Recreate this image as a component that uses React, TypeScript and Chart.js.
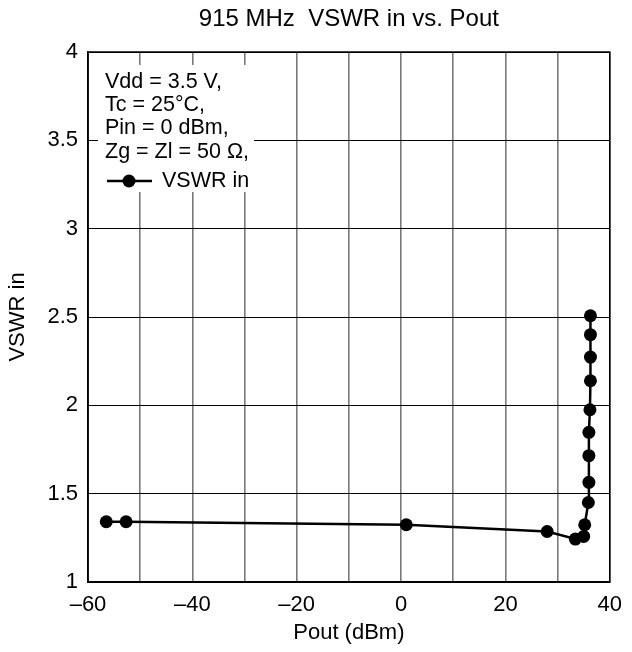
import React, { useEffect, useRef } from "react";
import { Chart, registerables } from "chart.js";

Chart.register(...registerables);

// Measured input VSWR against output power at 915 MHz
const poutDbm: number[] = [-56.5, -52.7, 1.0, 28.0, 33.4, 35.0, 35.2, 35.9, 36.0, 36.0, 36.0, 36.2, 36.3, 36.3, 36.3, 36.3];
const vswrIn: number[] = [1.341, 1.341, 1.324, 1.286, 1.243, 1.258, 1.324, 1.45, 1.564, 1.715, 1.847, 1.975, 2.139, 2.273, 2.4, 2.507];

const xTickValues: number[] = [-60, -40, -20, 0, 20, 40];
const yTickLabels: string[] = ["1", "1.5", "2", "2.5", "3", "3.5", "4"];

const conditionLines: string[] = ["Vdd = 3.5 V,", "Tc = 25\u00b0C,", "Pin = 0 dBm,", "Zg = Zl = 50 \u03a9,"];
const seriesName = "VSWR in";
const chartTitle = "915 MHz  VSWR in vs. Pout";

const FONT = "'Liberation Sans', Arial, Helvetica, sans-serif";

const framePlugin = {
  id: "frameAndNotes",
  beforeDatasetsDraw(chart: any) {
    const { ctx, chartArea } = chart;
    const { left, top, right, bottom } = chartArea;
    ctx.save();
    // black plot frame
    ctx.strokeStyle = "#000";
    ctx.lineWidth = 1.5;
    ctx.strokeRect(left, top, right - left, bottom - top);

    // condition note box (covers the grid)
    ctx.fillStyle = "#fff";
    ctx.fillRect(left + 10, top + 13, 156, 127);

    ctx.fillStyle = "#000";
    ctx.font = `21.5px ${FONT}`;
    ctx.textAlign = "left";
    ctx.textBaseline = "middle";
    const rows = [82, 105, 128, 152];
    conditionLines.forEach((t, i) => ctx.fillText(t, left + 17, rows[i]));

    // legend sample
    const ly = 181;
    ctx.strokeStyle = "#000";
    ctx.lineWidth = 2.5;
    ctx.beginPath();
    ctx.moveTo(left + 19, ly);
    ctx.lineTo(left + 64, ly);
    ctx.stroke();
    ctx.beginPath();
    ctx.arc(left + 41, ly, 6.5, 0, Math.PI * 2);
    ctx.fill();
    ctx.fillText(seriesName, left + 74, ly);

    // chart title
    ctx.font = `24px ${FONT}`;
    ctx.textAlign = "center";
    ctx.fillText(chartTitle, (left + right) / 2, 19);
    ctx.restore();
  },
};

export default function App() {
  const canvasRef = useRef<HTMLCanvasElement | null>(null);

  useEffect(() => {
    if (!canvasRef.current) return;
    const points = poutDbm.map((x, i) => ({ x, y: vswrIn[i] }));
    const chart = new Chart(canvasRef.current, {
      type: "line",
      data: {
        datasets: [
          {
            label: seriesName,
            data: points,
            borderColor: "#000",
            backgroundColor: "#000",
            borderWidth: 2.5,
            pointRadius: 6.5,
            pointBackgroundColor: "#000",
            pointBorderWidth: 0,
            tension: 0,
          },
        ],
      },
      options: {
        animation: false,
        responsive: true,
        maintainAspectRatio: false,
        layout: { padding: { top: 52, right: 15, left: 0, bottom: 0 } },
        plugins: {
          legend: { display: false },
          title: { display: false },
          tooltip: { enabled: false },
        },
        scales: {
          x: {
            type: "linear",
            min: -60,
            max: 40,
            afterFit(scale: any) {
              scale.height = 70;
            },
            afterBuildTicks(scale: any) {
              const t = [];
              for (let v = -60; v <= 40; v += 10) t.push({ value: v });
              scale.ticks = t;
            },
            border: { color: "#000", width: 1.5 },
            grid: { color: "#7a7a7a", lineWidth: 1.6, drawTicks: false },
            ticks: {
              autoSkip: false,
              maxRotation: 0,
              padding: 10,
              color: "#000",
              font: { family: FONT, size: 22 },
              callback(value: any) {
                const v = Number(value);
                if (!xTickValues.includes(v)) return "";
                return v < 0 ? "\u2013" + Math.abs(v) : String(v);
              },
            },
            title: {
              display: true,
              text: "Pout (dBm)",
              color: "#000",
              font: { family: FONT, size: 22 },
              padding: { top: 0, bottom: 6 },
            },
          },
          y: {
            type: "linear",
            min: 1,
            max: 4,
            afterFit(scale: any) {
              scale.width = 88;
            },
            afterBuildTicks(scale: any) {
              scale.ticks = yTickLabels.map((l) => ({ value: Number(l) }));
            },
            border: { color: "#000", width: 1.5 },
            grid: { color: "#000", lineWidth: 1, drawTicks: false },
            ticks: {
              padding: 10,
              color: "#000",
              font: { family: FONT, size: 22 },
              callback(value: any) {
                const v = Number(value);
                const s = String(v);
                return yTickLabels.includes(s) ? s : "";
              },
            },
            title: {
              display: true,
              text: "VSWR in",
              color: "#000",
              font: { family: FONT, size: 22 },
              padding: { top: 5, bottom: 0 },
            },
          },
        },
      },
      plugins: [framePlugin],
    });
    return () => chart.destroy();
  }, []);

  return (
    <div style={{ position: "fixed", left: 0, top: 0, width: 632, height: 652, background: "#fff" }}>
      <canvas ref={canvasRef} />
    </div>
  );
}
